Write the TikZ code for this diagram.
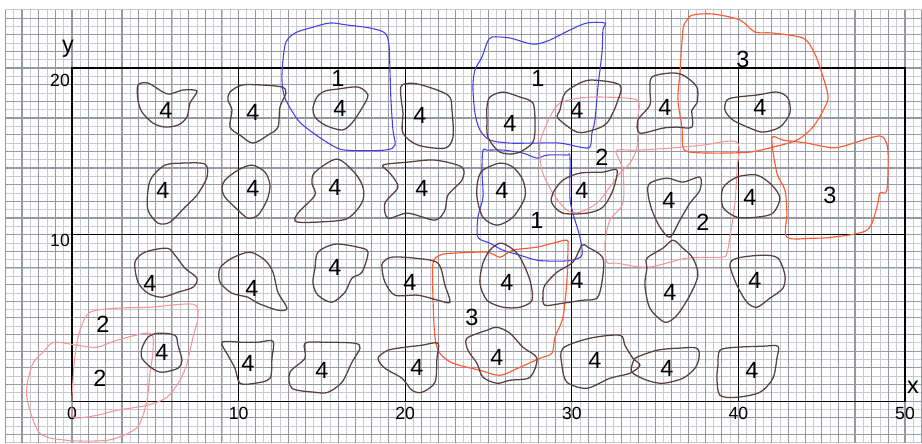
\documentclass[tikz,border=0pt]{standalone}
\usepackage{fontspec}
\setmainfont{Liberation Sans}
\usepackage{tikz}

\definecolor{gridminor}{RGB}{200,202,210}
\definecolor{gridmajor}{RGB}{150,152,164}
\definecolor{blobline}{RGB}{88,64,64}
\definecolor{zoneblue}{RGB}{64,64,236}
\definecolor{zonepink}{RGB}{246,150,150}
\definecolor{zoneorange}{RGB}{255,92,52}

\begin{document}
\begin{tikzpicture}[x=0.3cm, y=0.3cm, every node/.style={anchor=center},
    blob/.style={draw=blobline, line width=0.65pt},
    zoneone/.style={draw=zoneblue, line width=0.55pt},
    zonetwo/.style={draw=zonepink, line width=0.55pt},
    zonethree/.style={draw=zoneorange, line width=0.6pt},
    lbl/.style={font=\fontsize{12}{12}\selectfont, inner sep=0pt},
    axlbl/.style={font=\fontsize{9}{9}\selectfont, inner sep=0pt},
    axname/.style={font=\fontsize{12}{12}\selectfont, inner sep=0pt}]
    \useasboundingbox (-4.3217,-2.5225) rectangle (51.02,24.084);
    % Millimetre grid
    \draw[gridminor, line width=0.45pt, step=0.5] (-4,-2.5225) grid (51.02,23.5);
    \draw[gridmajor, line width=0.55pt, step=1] (-4,-2.5225) grid (51.02,23.5);
    % Frame and sections
    \draw[line width=0.7pt] (0,0) rectangle (50,20);
    \foreach \x in {10,20,30,40} \draw[line width=0.7pt] (\x,0) -- (\x,20);
    \draw[line width=0.7pt] (0,10) -- (50,10);
    % Axis labels
    \foreach \x in {0,10,20,30,40,50} \node[axlbl] (x\x) at (\x,-0.72) {\x};
    \node[axlbl] (y20) at (-0.72,19.28) {20};
    \node[axlbl] (y10) at (-0.72,9.67) {10};
    \node[axname] (yname) at (-0.24,21.15) {y};
    \node[axname] (xname) at (50.48,0.84) {x};

    % Shapes traced in pixel units of the sheet
    \begin{scope}[shift={(-4.3217,24.084)}, x=0.018007cm, y=-0.018018cm]
    % Zones 1
    \draw[zoneone] plot[smooth cycle] coordinates {(330,23) (347,25) (370,28) (385,33) (389,45) (390,70) (391,100) (393,130) (395,145) (385,150) (345,150) (330,144) (312,132) (298,120) (285,98) (282,80) (283,60) (286,42) (295,33) (310,28)};
    \draw[zoneone] plot[smooth cycle] coordinates {(605,23) (587,23) (570,30) (550,40) (537,44) (527,43) (510,38) (492,37) (487,43) (482,57) (475,70) (473,87) (475,113) (480,130) (490,140) (510,143) (533,143) (560,143) (580,147) (590,147) (592,133) (595,120) (598,87) (602,53) (603,30)};
    \draw[zoneone] plot[smooth cycle] coordinates {(483,150) (482,170) (483,197) (478,217) (478,237) (490,243) (503,250) (520,255) (537,260) (557,261) (572,260) (582,255) (580,237) (573,213) (570,197) (570,157) (567,155) (547,155) (537,158) (523,153) (503,150) (487,150)};
    \node[lbl] (za1) at (338,78) {1};
    \node[lbl] (zb1) at (538,78) {1};
    \node[lbl] (zc1) at (537,220) {1};
    % Zones 2
    \draw[zonetwo] plot[smooth cycle] coordinates {(540,143) (550,117) (560,103) (580,98) (603,97) (637,100) (638,117) (637,147) (630,163) (620,173) (610,187) (597,203) (580,212) (567,210) (553,193) (542,170)};
    \draw[zonetwo] plot[smooth cycle] coordinates {(617,150) (637,150) (670,148) (703,145) (737,142) (737,170) (735,203) (730,237) (727,253) (722,257) (687,258) (648,267) (617,263) (607,262) (605,243) (610,220) (623,203) (623,170) (618,157)};
    \draw[zonetwo] plot[smooth cycle] coordinates {(90,312) (117,308) (150,307) (193,304) (198,317) (193,337) (187,363) (180,380) (167,397) (147,405) (117,410) (97,415) (74,417) (72,400) (73,380) (75,355) (80,330)};
    \draw[zonetwo] plot[smooth cycle] coordinates {(54,342) (77,345) (97,347) (117,340) (150,333) (153,350) (150,373) (147,400) (140,423) (130,432) (107,440) (67,440) (40,433) (28,403) (27,385) (33,363) (43,352)};
    \node[lbl] (za2) at (602,157) {2};
    \node[lbl] (zb2) at (703,222) {2};
    \node[lbl] (zc2) at (103,324) {2};
    \node[lbl] (zd2) at (100,378) {2};
    % Zones 3
    \draw[zonethree] plot[smooth cycle] coordinates {(693,15) (713,14) (740,20) (755,32) (773,33) (803,38) (813,50) (820,67) (828,95) (825,107) (813,127) (797,140) (773,147) (750,152) (717,153) (690,152) (683,147) (682,127) (678,100) (680,73) (683,30) (687,20)};
    \draw[zonethree] plot[smooth cycle] coordinates {(772,138) (777,173) (785,190) (787,213) (787,237) (813,238) (833,237) (867,230) (877,207) (880,193) (887,190) (888,150) (883,137) (873,137) (840,147) (827,147) (807,143) (783,140)};
    \draw[zonethree] plot[smooth cycle] coordinates {(440,255) (453,253) (487,252) (500,257) (513,250) (537,247) (553,243) (567,240) (568,247) (567,280) (563,317) (555,337) (552,353) (540,358) (520,367) (500,375) (480,370) (453,363) (440,353) (435,337) (433,297) (433,263)};
    \node[lbl] (za3) at (743,59) {3};
    \node[lbl] (zb3) at (830,195) {3};
    \node[lbl] (zc3) at (472,317) {3};

    % Cells 4, top row
    \draw[blob] plot[smooth cycle] coordinates {(138,85) (148,83) (163,92) (170,94) (183,90) (197,91) (190,103) (187,117) (178,125) (165,127) (153,123) (142,112) (138,100)};
    \draw[blob] plot[smooth cycle] coordinates {(230,92) (242,85) (262,85) (282,87) (286,93) (280,107) (278,127) (268,135) (253,143) (240,135) (230,127) (232,110) (228,100)};
    \draw[blob] plot[smooth cycle] coordinates {(313,108) (317,97) (325,91) (338,89) (358,87) (368,95) (362,108) (352,123) (342,130) (325,125) (315,117)};
    \draw[blob] plot[smooth cycle] coordinates {(402,85) (418,84) (448,95) (452,110) (453,137) (445,148) (418,145) (403,133) (403,113) (401,97)};
    \draw[blob] plot[smooth cycle] coordinates {(490,97) (503,92) (520,97) (533,103) (535,123) (533,142) (517,153) (500,152) (488,137) (487,120) (487,107)};
    \draw[blob] plot[smooth cycle] coordinates {(560,110) (565,93) (580,83) (593,80) (620,85) (617,103) (607,123) (593,130) (577,132) (558,118)};
    \draw[blob] plot[smooth cycle] coordinates {(652,77) (670,73) (683,75) (697,87) (697,103) (692,110) (692,127) (677,127) (663,128) (640,133) (638,120) (650,105) (650,90)};
    \draw[blob] plot[smooth cycle] coordinates {(727,100) (737,97) (757,95) (777,92) (788,98) (790,113) (780,127) (763,132) (750,128) (733,120) (725,110)};
    \node[lbl] (c11) at (166,110) {4};
    \node[lbl] (c12) at (253,112) {4};
    \node[lbl] (c13) at (340,108) {4};
    \node[lbl] (c14) at (420,115) {4};
    \node[lbl] (c15) at (510,123) {4};
    \node[lbl] (c16) at (577,110) {4};
    \node[lbl] (c17) at (665,107) {4};
    \node[lbl] (c18) at (760,107) {4};
    % Cells 4, second row
    \draw[blob] plot[smooth cycle] coordinates {(152,177) (165,165) (183,163) (205,164) (207,177) (197,195) (185,207) (170,222) (158,223) (148,210) (148,190)};
    \draw[blob] plot[smooth cycle] coordinates {(225,180) (238,170) (252,165) (265,172) (270,185) (267,200) (258,215) (248,218) (238,210) (225,197) (222,188)};
    \draw[blob] plot[smooth cycle] coordinates {(315,172) (337,159) (355,173) (363,187) (363,200) (355,212) (342,220) (298,222) (298,213) (315,195) (312,183)};
    \draw[blob] plot[smooth cycle] coordinates {(383,165) (408,162) (435,160) (462,167) (462,180) (448,195) (445,210) (435,220) (408,213) (388,218) (385,203) (398,187) (390,173)};
    \draw[blob] plot[smooth cycle] coordinates {(483,170) (500,163) (513,167) (523,180) (525,197) (513,217) (497,225) (483,217) (477,197) (478,180)};
    \draw[blob] plot[smooth cycle] coordinates {(553,193) (563,180) (580,173) (603,172) (617,170) (613,190) (603,207) (587,213) (563,213) (552,203)};
    \draw[blob] plot[smooth cycle] coordinates {(650,183) (667,178) (683,182) (700,177) (700,190) (690,203) (680,220) (670,237) (660,227) (652,210) (648,193)};
    \draw[blob] plot[smooth cycle] coordinates {(723,188) (737,177) (757,175) (772,185) (780,198) (773,213) (757,217) (737,217) (723,207)};
    \node[lbl] (c21) at (163,190) {4};
    \node[lbl] (c22) at (253,188) {4};
    \node[lbl] (c23) at (335,187) {4};
    \node[lbl] (c24) at (422,188) {4};
    \node[lbl] (c25) at (502,190) {4};
    \node[lbl] (c26) at (582,190) {4};
    \node[lbl] (c27) at (669,200) {4};
    \node[lbl] (c28) at (750,197) {4};
    % Cells 4, third row
    \draw[blob] plot[smooth cycle] coordinates {(135,262) (145,252) (167,248) (175,255) (185,268) (197,278) (193,287) (178,292) (162,297) (148,293) (138,282)};
    \draw[blob] plot[smooth cycle] coordinates {(220,268) (232,258) (250,252) (265,260) (273,272) (278,292) (287,308) (278,310) (258,303) (248,297) (232,293) (220,282)};
    \draw[blob] plot[smooth cycle] coordinates {(318,252) (335,244) (358,247) (368,252) (362,272) (352,278) (345,292) (332,302) (318,295) (313,283) (315,268)};
    \draw[blob] plot[smooth cycle] coordinates {(383,262) (392,257) (415,258) (438,263) (445,285) (450,302) (438,300) (418,295) (395,295) (385,282) (382,268)};
    \draw[blob] plot[smooth cycle] coordinates {(490,250) (500,243) (510,247) (520,257) (530,280) (532,300) (520,307) (503,307) (487,300) (480,283) (483,263)};
    \draw[blob] plot[smooth cycle] coordinates {(545,285) (557,272) (573,262) (582,245) (588,247) (603,258) (602,282) (597,298) (583,300) (563,303) (545,305) (543,295)};
    \draw[blob] plot[smooth cycle] coordinates {(647,258) (663,248) (673,240) (683,248) (693,258) (698,275) (690,295) (677,315) (665,322) (650,308) (645,285) (647,268)};
    \draw[blob] plot[smooth cycle] coordinates {(730,265) (737,258) (763,255) (778,258) (785,275) (783,288) (770,298) (757,307) (747,302) (737,285)};
    \node[lbl] (c31) at (150,283) {4};
    \node[lbl] (c32) at (252,288) {4};
    \node[lbl] (c33) at (335,267) {4};
    \node[lbl] (c34) at (410,282) {4};
    \node[lbl] (c35) at (507,282) {4};
    \node[lbl] (c36) at (577,280) {4};
    \node[lbl] (c37) at (670,292) {4};
    \node[lbl] (c38) at (755,280) {4};
    % Cells 4, bottom row
    \draw[blob] plot[smooth cycle] coordinates {(142,348) (148,337) (158,333) (175,335) (178,345) (182,360) (178,368) (162,372) (152,368) (142,358)};
    \draw[blob] plot[smooth cycle] coordinates {(222,342) (242,342) (258,342) (273,341) (272,358) (270,378) (255,383) (240,383) (235,368) (228,355)};
    \draw[blob] plot[smooth cycle] coordinates {(305,343) (325,342) (355,343) (360,348) (352,362) (342,382) (328,392) (315,392) (292,388) (290,372) (305,358)};
    \draw[blob] plot[smooth cycle] coordinates {(378,358) (388,350) (405,347) (422,345) (438,343) (437,358) (435,382) (422,392) (412,390) (402,378) (385,368)};
    \draw[blob] plot[smooth cycle] coordinates {(467,338) (487,330) (497,327) (510,333) (523,347) (537,358) (530,377) (510,380) (497,383) (483,377) (477,363) (468,350)};
    \draw[blob] plot[smooth cycle] coordinates {(563,348) (590,338) (620,335) (625,345) (633,358) (640,365) (630,373) (610,378) (587,388) (567,382) (562,365)};
    \draw[blob] plot[smooth cycle] coordinates {(637,357) (657,350) (677,348) (697,348) (699,358) (695,368) (683,378) (663,383) (647,380) (632,372) (633,362)};
    \draw[blob] plot[smooth cycle] coordinates {(720,350) (737,347) (763,346) (778,346) (777,358) (773,378) (760,392) (737,397) (720,395) (717,378) (718,365)};
    \node[lbl] (c41) at (162,352) {4};
    \node[lbl] (c42) at (248,363) {4};
    \node[lbl] (c43) at (322,370) {4};
    \node[lbl] (c44) at (417,367) {4};
    \node[lbl] (c45) at (497,357) {4};
    \node[lbl] (c46) at (595,360) {4};
    \node[lbl] (c47) at (667,368) {4};
    \node[lbl] (c48) at (752,370) {4};
    \end{scope}
\end{tikzpicture}
\end{document}
